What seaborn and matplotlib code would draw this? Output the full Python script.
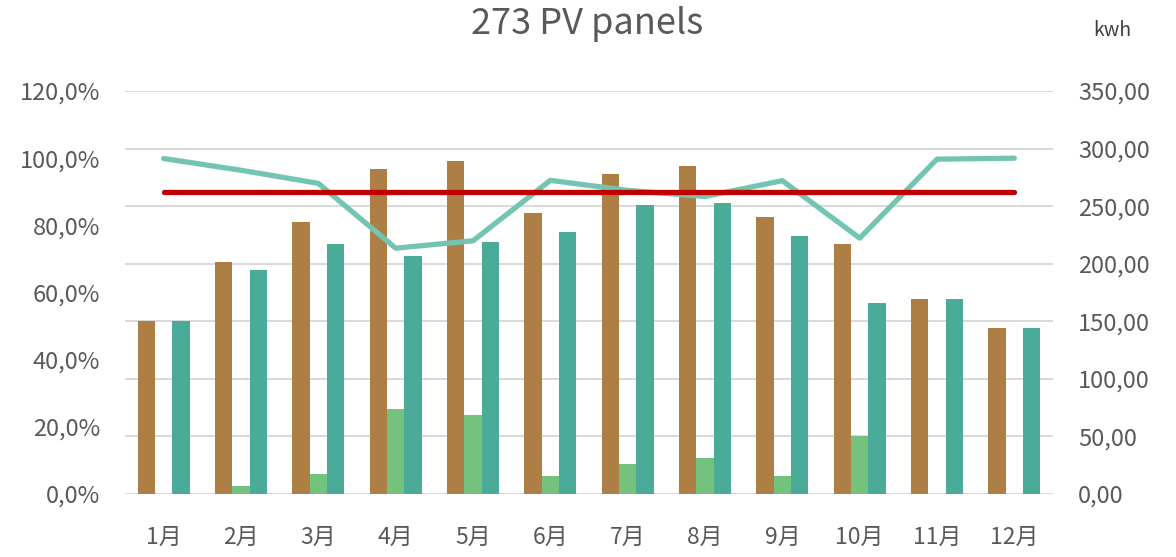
import matplotlib
matplotlib.use("Agg")
import matplotlib.pyplot as plt
import seaborn as sns
import pandas as pd
from matplotlib.ticker import FuncFormatter, MultipleLocator

months = ["1月", "2月", "3月", "4月", "5月", "6月", "7月", "8月", "9月", "10月", "11月", "12月"]
expected_kwh = [150.3, 201.5, 235.8, 282.0, 289.2, 244.0, 278.2, 284.6, 240.3, 216.9, 169.6, 143.9]
shortfall_kwh = [0.0, 6.7, 17.4, 73.8, 68.9, 15.6, 26.0, 31.3, 15.6, 50.1, 0.0, 0.0]
actual_kwh = [150.3, 194.5, 217.1, 206.7, 218.9, 227.8, 251.3, 252.7, 224.1, 165.6, 169.1, 143.9]
ratio_pct = [99.9, 96.4, 92.5, 73.2, 75.4, 93.4, 90.4, 88.6, 93.3, 76.2, 99.7, 100.0]
target_pct = [90.0] * 12

series_names = ["expected", "shortfall", "actual"]
bar_colors = ["#AE7F45", "#75C17E", "#4AAC98"]

sns.set_theme(style="white")
plt.rcParams["font.family"] = ["Noto Sans CJK SC", "DejaVu Sans"]
text_color = "#595959"

bars = pd.DataFrame({
    "month": months * 3,
    "series": sum([[n] * 12 for n in series_names], []),
    "kwh": expected_kwh + shortfall_kwh + actual_kwh,
})
lines = pd.DataFrame({"month": months, "ratio": ratio_pct, "target": target_pct})

fig = plt.figure(figsize=(11.76, 5.57), dpi=100)
ax = fig.add_axes([125 / 1176, 1 - 494 / 557, (1053 - 125) / 1176, (494 - 91) / 557])

# kWh bars on the base axes (value scale shown on the right)
sns.barplot(data=bars, x="month", y="kwh", hue="series", order=months,
            hue_order=series_names, palette=bar_colors, width=0.672,
            dodge=True, gap=0, saturation=1, edgecolor="none", linewidth=0,
            legend=False, ax=ax)
ax.set_ylim(0, 350)
ax.set_xlim(-0.5, 11.5)
ax.grid(axis="y", color="#D9D9D9", linewidth=1.4)
ax.set_axisbelow(True)
for s in ax.spines.values():
    s.set_visible(False)
ax.set_xlabel("")
ax.set_ylabel("")

# percentage lines on a twin axes drawn above the bars
ax2 = ax.twinx()
sns.lineplot(data=lines, x="month", y="ratio", color="#73C4B2", linewidth=3.8,
             sort=False, ax=ax2, solid_capstyle="round", solid_joinstyle="round")
sns.lineplot(data=lines, x="month", y="target", color="#C00000", linewidth=3.8,
             sort=False, ax=ax2, solid_capstyle="round")
ax2.set_ylim(0, 120)
ax2.set_xlim(-0.5, 11.5)
for s in ax2.spines.values():
    s.set_visible(False)
ax2.set_xlabel("")
ax2.set_ylabel("")
ax2.grid(False)

ax.yaxis.tick_right()
ax.yaxis.set_label_position("right")
ax.yaxis.set_major_locator(MultipleLocator(50))
ax.yaxis.set_major_formatter(FuncFormatter(lambda v, p: f"{v:.2f}".replace(".", ",")))
ax.tick_params(axis="y", which="both", left=False, labelleft=False, right=False,
               labelright=True, length=0, pad=18, labelsize=17, labelcolor=text_color)
ax.tick_params(axis="x", length=0, pad=23, labelsize=16.5, labelcolor=text_color)

ax2.yaxis.tick_left()
ax2.yaxis.set_major_locator(MultipleLocator(20))
ax2.yaxis.set_major_formatter(FuncFormatter(lambda v, p: f"{v:.1f}%".replace(".", ",")))
ax2.tick_params(axis="y", which="both", right=False, labelright=False, left=False,
                labelleft=True, length=0, pad=18, labelsize=17, labelcolor=text_color)

fig.text(587 / 1176, 1 - 24 / 557, "273 PV panels", ha="center", va="center",
         fontsize=26, color=text_color, fontweight="light")
fig.text(1112 / 1176, 1 - 30 / 557, "kwh", ha="center", va="center",
         fontsize=14, color="#404040")

fig.savefig("out.png", dpi=100, facecolor="white")
